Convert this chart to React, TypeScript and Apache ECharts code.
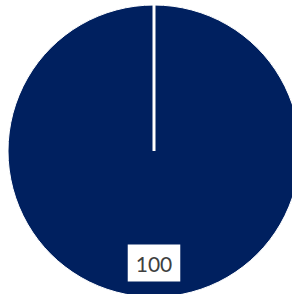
import React, { useEffect, useRef } from "react";
import * as echarts from "echarts";

const categories: string[] = ["Total"];
const values: number[] = [100];

const CX = 154;
const CY = 151;
const R = 146;

export default function App() {
  const ref = useRef<HTMLDivElement>(null);
  useEffect(() => {
    if (!ref.current) return;
    const chart = echarts.init(ref.current, undefined, { renderer: "svg" });
    chart.setOption({
      animation: false,
      backgroundColor: "#ffffff",
      series: [
        {
          type: "pie",
          center: [CX, CY],
          radius: [0, R],
          startAngle: 90,
          clockwise: true,
          silent: true,
          itemStyle: { color: "#00205F", borderColor: "#ffffff", borderWidth: 1 },
          label: {
            show: true,
            position: "inside",
            formatter: "{c}",
            color: "#404040",
            fontFamily: "Lato",
            fontSize: 21,
            lineHeight: 21,
            backgroundColor: "#ffffff",
            padding: [8, 8, 8, 8],
          },
          labelLayout: { dy: 36 },
          labelLine: { show: false },
          data: categories.map((c, i) => ({ name: c, value: values[i] })),
        },
      ],
      graphic: [
        {
          type: "line",
          z: 100,
          shape: { x1: CX, y1: CY, x2: CX, y2: CY - R },
          style: { stroke: "#ffffff", lineWidth: 3 },
        },
      ],
    });
    return () => chart.dispose();
  }, []);
  return (
    <div
      ref={ref}
      style={{ position: "fixed", left: 0, top: 0, width: 292, height: 294 }}
    />
  );
}
